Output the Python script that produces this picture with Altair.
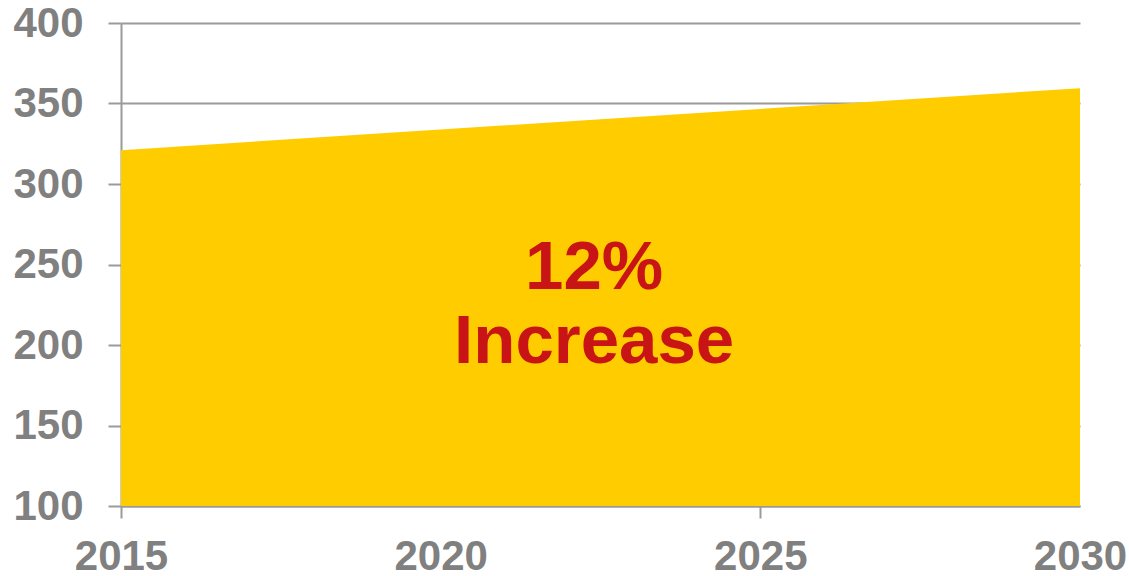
import altair as alt
import pandas as pd

years = [2015, 2030]
values = [321, 359.5]
baseline = [100, 100]

label_lines = ["12%", "Increase"]
label_x = [2022.4, 2022.4]
label_y = [248, 202]

x_ticks = [2015, 2020, 2025, 2030]
y_ticks = [100, 150, 200, 250, 300, 350, 400]

df = pd.DataFrame({"year": years, "value": values, "base": baseline})
lab = pd.DataFrame({"text": label_lines, "x": label_x, "y": label_y})

GRAY = "#9a9a9a"
LABEL = "#808080"
FONT = "Liberation Sans"

xscale = alt.Scale(domain=[2015, 2030], nice=False)
yscale = alt.Scale(domain=[100, 400], nice=False, zero=False)

area = alt.Chart(df).mark_area(color="#FFCC00", opacity=1).encode(
    x=alt.X("year:Q", scale=xscale,
            axis=alt.Axis(values=x_ticks, title=None, format="d",
                          labelFont=FONT, labelFontSize=42, labelFontWeight="bold",
                          labelColor=LABEL, tickSize=12, tickWidth=2,
                          tickColor=alt.expr(f"datum.value == 2020 || datum.value == 2030 ? 'transparent' : '{GRAY}'"),
                          domainColor=GRAY, domainWidth=2, grid=False,
                          labelBaseline="alphabetic", labelPadding=51,
                          labelFlush=False, labelOverlap=False)),
    y=alt.Y("value:Q", scale=yscale,
            axis=alt.Axis(values=y_ticks, title=None,
                          labelFont=FONT, labelFontSize=42, labelFontWeight="bold",
                          labelColor=LABEL, tickSize=13, tickWidth=2, tickColor=GRAY,
                          domainColor=GRAY, domainWidth=2, grid=True,
                          gridColor=GRAY, gridWidth=2, labelPadding=25,
                          labelFlush=False, labelOverlap=False)),
    y2="base:Q",
)

text = alt.Chart(lab).mark_text(
    font=FONT, fontSize=69, fontWeight="bold", color="#C81414",
    align="center", baseline="middle"
).encode(
    x=alt.X("x:Q", scale=xscale),
    y=alt.Y("y:Q", scale=yscale),
    text="text:N",
)

chart = (area + text).properties(
    width=959, height=483,
    autosize=alt.AutoSizeParams(type="none"),
    padding={"left": 121, "top": 23, "right": 50, "bottom": 70},
    background="white",
).configure_view(stroke=None)

chart.save("out.html", embed_options={"renderer": "svg", "actions": False})
